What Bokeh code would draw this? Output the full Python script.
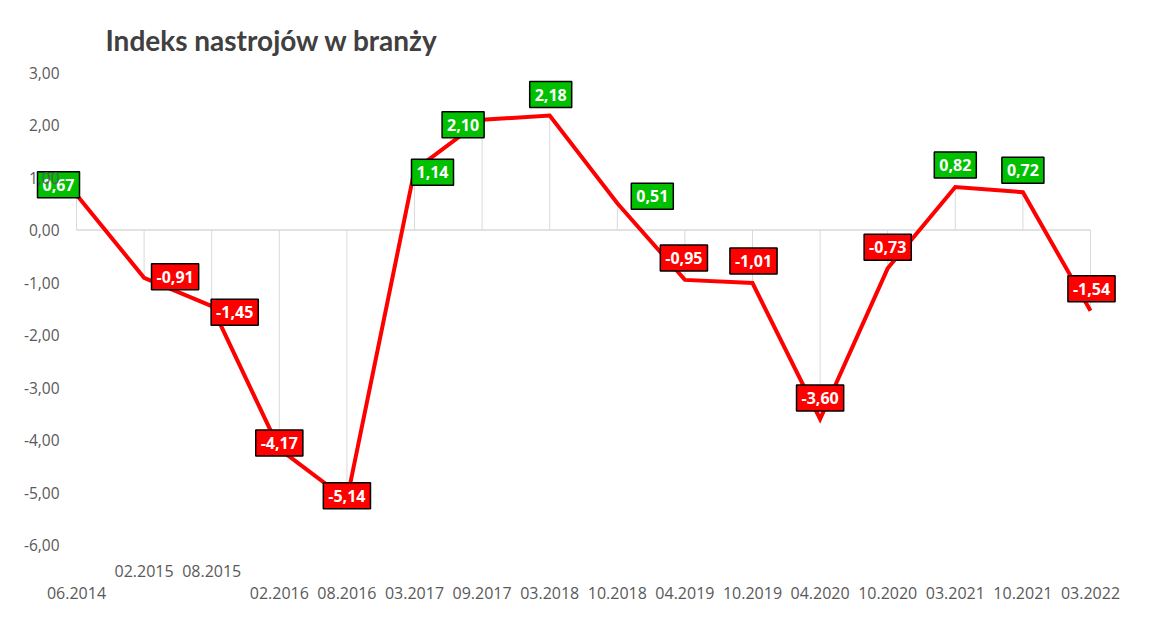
from bokeh.plotting import figure
from bokeh.models import ColumnDataSource, FixedTicker, Range1d
from bokeh.core.properties import value
from bokeh.embed import file_html
from bokeh.resources import INLINE

# ---- data ----
categories = ["06.2014", "02.2015", "08.2015", "02.2016", "08.2016", "03.2017",
              "09.2017", "03.2018", "10.2018", "04.2019", "10.2019", "04.2020",
              "10.2020", "03.2021", "10.2021", "03.2022"]
values = [0.67, -0.91, -1.45, -4.17, -5.14, 1.14, 2.10, 2.18, 0.51, -0.95,
          -1.01, -3.60, -0.73, 0.82, 0.72, -1.54]
y_ticks = [3, 2, 1, 0, -1, -2, -3, -4, -5, -6]
title_text = "Indeks nastrojów w branży"

# ---- layout / style (not data) ----
label_dx = [-18, 31, 23, 0, 0, 18, -19, 1, 35, -1, 1, 0, 0, 0, 0, 1]
label_dy = [-10, -1, 6, -6, -4, 2, 5, -21, -7, -22, -22, -21, -21, -22, -22, -22]
cat_row_offset = [48, 26, 26, 48, 48, 48, 48, 48, 48, 48, 48, 48, 48, 48, 48, 48]

GREEN = "#00C000"
RED = "#FF0000"
GRID = "#D9D9D9"
AXIS_TXT = "#595959"

PX_X = 67.6   # pixels per category step
PX_Y = 52.5   # pixels per unit

idx = list(range(len(categories)))
fmt = lambda v: f"{v:.2f}".replace(".", ",")

src = ColumnDataSource(dict(
    x=idx, y=values, zero=[0] * len(idx),
    lbl=[fmt(v) for v in values],
    fill=[GREEN if v >= 0 else RED for v in values],
    dx=label_dx, dy=label_dy,
    cat=categories, cat_y=[min(y_ticks)] * len(idx), cat_dy=cat_row_offset,
))

W, H = 1145, 627
p = figure(width=W, height=H, output_backend="svg", toolbar_location=None,
           x_range=Range1d(-46 / PX_X, 15 + 35 / PX_X),
           y_range=Range1d(-(618 - 229.5) / PX_Y, 3 + 12 / PX_Y),
           min_border_left=30, min_border_right=20,
           min_border_top=60, min_border_bottom=9,
           title=title_text)
p.outline_line_color = None
p.background_fill_color = "white"
p.border_fill_color = "white"
p.xgrid.visible = False
p.ygrid.visible = False
p.xaxis.visible = False

p.title.text_font = "Lato"
p.title.text_font_style = "bold"
p.title.text_font_size = "28px"
p.title.text_color = "#404040"
p.title.align = "left"
p.title.offset = 75
p.title.standoff = 8

ya = p.yaxis[0]
ya.ticker = FixedTicker(ticks=y_ticks)
ya.major_label_overrides = {t: fmt(t) for t in y_ticks}
ya.axis_line_color = None
ya.major_tick_line_color = None
ya.minor_tick_line_color = None
ya.major_tick_out = 0
ya.major_tick_in = 0
ya.major_label_standoff = -29
ya.major_label_text_font = "Open Sans"
ya.major_label_text_font_size = "15.5px"
ya.major_label_text_color = AXIS_TXT

# drop lines from each point to zero
p.segment(x0="x", y0="zero", x1="x", y1="y", source=src, line_color=GRID, line_width=1)
# zero axis line across the categories
p.line(x="x", y="zero", source=src, line_color=GRID, line_width=1.5)
# series line
p.line(x="x", y="y", source=src, line_color=RED, line_width=4, line_join="miter")

# data labels
p.text(x="x", y="y", text="lbl", source=src, x_offset="dx", y_offset="dy",
       text_font=value("Open Sans"), text_font_style="bold", text_font_size="16px",
       text_color="white", text_align="center", text_baseline="middle",
       background_fill_color="fill", border_line_color="black", border_line_width=1.5,
       padding=(5, 7))

# category labels
p.text(x="x", y="cat_y", text="cat", source=src, y_offset="cat_dy",
       text_font=value("Open Sans"), text_font_size="16px", text_color=AXIS_TXT,
       text_align="center", text_baseline="middle")

open("out.html", "w").write(file_html(p, INLINE))
